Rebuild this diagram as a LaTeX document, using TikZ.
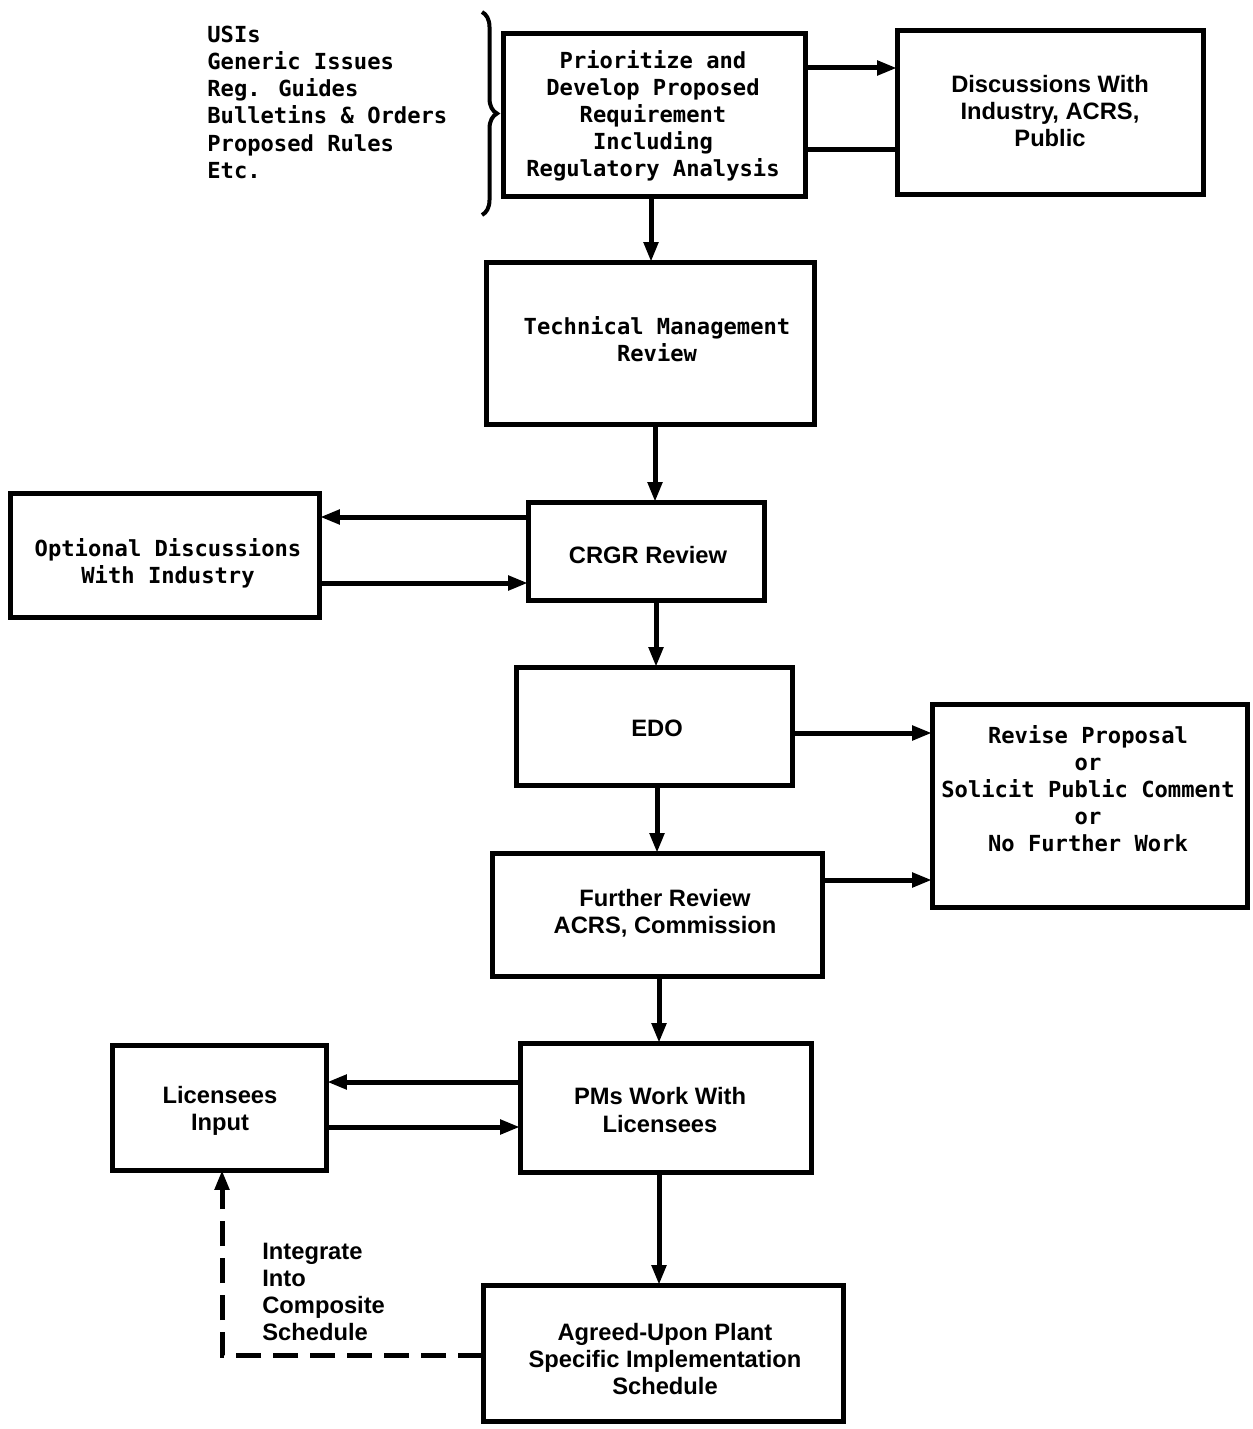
\documentclass[tikz,border=0pt]{standalone}
\usepackage{fontspec}
\usetikzlibrary{arrows.meta,decorations.pathreplacing}
\newfontfamily\monob{DejaVu Sans Mono}
\newfontfamily\sansb{Liberation Sans}
\tikzset{
  box/.style={draw, line width=0.1cm, inner sep=0pt, outer sep=0pt},
  mtxt/.style={font=\monob\bfseries\fontsize{12.6pt}{15.4pt}\selectfont, align=center, inner sep=0pt},
  stxt/.style={font=\sansb\bfseries\fontsize{13.5pt}{15.4pt}\selectfont, align=center, inner sep=0pt},
  arr/.style={line width=0.1cm, -{Triangle[length=0.4cm,width=0.28cm]}},
  plain/.style={line width=0.1cm},
  dline/.style={line width=0.1cm, dash pattern=on 0.5cm off 0.24cm, -{Triangle[length=0.4cm,width=0.28cm]}}
}
\begin{document}
\begin{tikzpicture}[x=0.02cm,y=-0.02cm]
\useasboundingbox (0,0) rectangle (1252,1429);
% boxes
\node[box, minimum width=6.06cm, minimum height=3.28cm] (prio) at (654.5,115) {};
\node[box, minimum width=6.14cm, minimum height=3.30cm] (disc) at (1050.5,112.5) {};
\node[box, minimum width=6.58cm, minimum height=3.26cm] (tmr) at (650.5,343.5) {};
\node[box, minimum width=6.20cm, minimum height=2.50cm] (opt) at (165,555.5) {};
\node[box, minimum width=4.74cm, minimum height=1.98cm] (crgr) at (646.5,551.5) {};
\node[box, minimum width=5.54cm, minimum height=2.38cm] (edo) at (654.5,726.5) {};
\node[box, minimum width=6.32cm, minimum height=4.08cm] (rev) at (1090,806) {};
\node[box, minimum width=6.62cm, minimum height=2.48cm] (fur) at (657.5,915) {};
\node[box, minimum width=4.30cm, minimum height=2.50cm] (lic) at (219.5,1107.5) {};
\node[box, minimum width=5.84cm, minimum height=2.58cm] (pms) at (666,1107.5) {};
\node[box, minimum width=7.22cm, minimum height=2.72cm] (agr) at (663.5,1353) {};
% texts
\node[mtxt] (prio-t) at (653,116) {Prioritize and\\Develop Proposed\\Requirement\\Including\\Regulatory Analysis};
\node[stxt] (disc-t) at (1050,111) {Discussions With\\Industry, ACRS,\\Public};
\node[mtxt] (tmr-t) at (657,339) {Technical Management\\Review};
\node[mtxt] (opt-t) at (168,563) {Optional Discussions\\With Industry};
\node[stxt] (crgr-t) at (648,555) {CRGR Review};
\node[stxt] (edo-t) at (657,728) {EDO};
\node[mtxt] (rev-t) at (1088,789) {Revise Proposal\\or\\Solicit Public Comment\\or\\No Further Work};
\node[stxt] (fur-t) at (665,913) {Further Review\\ACRS, Commission};
\node[stxt] (lic-t) at (220,1111) {Licensees\\Input};
\node[stxt] (pms-t) at (660,1110) {PMs Work With\\Licensees};
\node[stxt] (agr-t) at (665,1359) {Agreed-Upon Plant\\Specific Implementation\\Schedule};
\node[mtxt, align=left, anchor=north west] (list) at (207,26) {USIs\\Generic Issues\\Reg. Guides\\Bulletins \& Orders\\Proposed Rules\\Etc.};
\node[stxt, align=left, anchor=north west] (integ) at (262,1243) {Integrate\\Into\\Composite\\Schedule};
% brace
\draw[line width=0.08cm, decorate, decoration={brace, amplitude=0.3cm}] (482,12) -- (482,215);
% connectors
\draw[arr] (prio.east |- 0,68) -- (disc.west |- 0,68);
\draw[plain] (disc.west |- 0,150) -- (prio.east |- 0,150);
\draw[arr] (651,0 |- prio.south) -- (651,0 |- tmr.north);
\draw[arr] (655,0 |- tmr.south) -- (655,0 |- crgr.north);
\draw[arr] (crgr.west |- 0,517) -- (opt.east |- 0,517);
\draw[arr] (opt.east |- 0,583) -- (crgr.west |- 0,583);
\draw[arr] (656,0 |- crgr.south) -- (656,0 |- edo.north);
\draw[arr] (edo.east |- 0,733) -- (rev.west |- 0,733);
\draw[arr] (657,0 |- edo.south) -- (657,0 |- fur.north);
\draw[arr] (fur.east |- 0,880) -- (rev.west |- 0,880);
\draw[arr] (659,0 |- fur.south) -- (659,0 |- pms.north);
\draw[arr] (pms.west |- 0,1082) -- (lic.east |- 0,1082);
\draw[arr] (lic.east |- 0,1127) -- (pms.west |- 0,1127);
\draw[arr] (659,0 |- pms.south) -- (659,0 |- agr.north);
\draw[dline] (agr.west |- 0,1355) -| (222,0 |- lic.south);
\end{tikzpicture}
\end{document}
